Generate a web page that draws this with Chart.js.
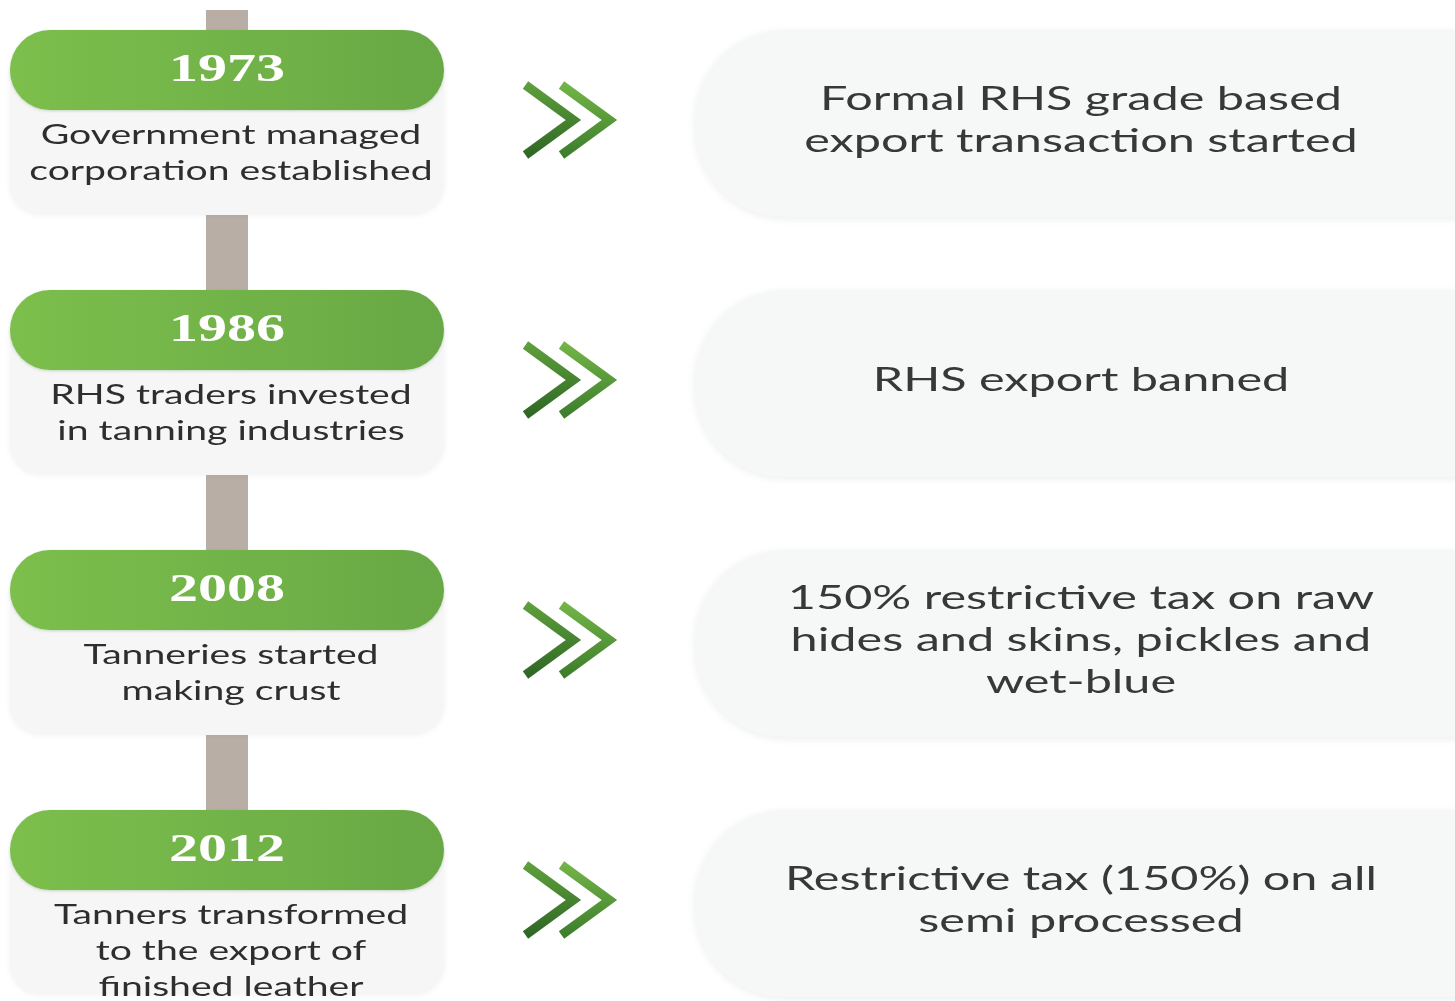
<!DOCTYPE html>
<html>
<head>
<meta charset="utf-8">
<script src="https://cdn.jsdelivr.net/npm/chart.js@4.4.1/dist/chart.umd.min.js"></script>
<style>
  html, body { margin: 0; padding: 0; background: #fff; overflow: hidden; }
  #wrap { width: 1455px; height: 1001px; }
</style>
</head>
<body>
<div id="wrap"><canvas id="timeline"></canvas></div>
<script>
// ============================== data

const years = ['1973', '1986', '2008', '2012'];

const milestones = [
    ['Government managed', 'corporation established'],
    ['RHS traders invested', 'in tanning industries'],
    ['Tanneries started', 'making crust'],
    ['Tanners transformed', 'to the export of', 'finished leather']
];

const outcomes = [
    ['Formal RHS grade based', 'export transaction started'],
    ['RHS export banned'],
    ['150% restrictive tax on raw', 'hides and skins, pickles and', 'wet-blue'],
    ['Restrictive tax (150%) on all', 'semi processed']
];

// column 0 = milestones, column 1 = outcomes; row = position in the timeline
const rows = years.map((y, i) => i);


// ============================== drawing helpers

const SX = 1.45; // the original artwork is stretched sideways

function stretchedText(ctx, text, x, y, font, color) {
    ctx.save();
    ctx.translate(x, y);
    ctx.scale(SX, 1);
    ctx.font = font;
    ctx.fillStyle = color;
    ctx.textAlign = 'center';
    ctx.textBaseline = 'middle';
    ctx.fillText(text, 0, 0);
    ctx.restore();
}

function chevron(ctx, x, y, c1, c2) {
    const g = ctx.createLinearGradient(0, y - 35, 0, y + 35);
    g.addColorStop(0, c1);
    g.addColorStop(1, c2);
    ctx.beginPath();
    ctx.moveTo(x - 48, y - 35);
    ctx.lineTo(x, y);
    ctx.lineTo(x - 48, y + 35);
    ctx.strokeStyle = g;
    ctx.lineWidth = 9;
    ctx.lineJoin = 'miter';
    ctx.lineCap = 'butt';
    ctx.stroke();
}

const timelinePlugin = {
    id: 'timeline',
    afterDatasetsDraw(chart) {
        const ctx = chart.ctx;
        const left = chart.getDatasetMeta(0).data;
        const right = chart.getDatasetMeta(1).data;

        // connector bar behind the milestone cards
        const cx = left[0].x;
        ctx.fillStyle = '#b9aea6';
        ctx.fillRect(cx - 21, left[0].y - 60, 42, left[left.length - 1].y - left[0].y + 60);

        // outcome cards
        right.forEach((p, i) => {
            const cy = p.y + 53;
            ctx.save();
            ctx.shadowColor = 'rgba(0,0,0,0.07)';
            ctx.shadowBlur = 8;
            ctx.shadowOffsetY = 2;
            ctx.beginPath();
            ctx.roundRect(695, cy - 93, 860, 187, 90);
            ctx.fillStyle = '#f6f7f7';
            ctx.fill();
            ctx.restore();
        });

        // milestone cards
        left.forEach((p, i) => {
            ctx.save();
            ctx.shadowColor = 'rgba(0,0,0,0.06)';
            ctx.shadowBlur = 6;
            ctx.beginPath();
            ctx.roundRect(p.x - 217, p.y, 434, 145, [0, 0, 30, 30]);
            ctx.fillStyle = '#f5f6f5';
            ctx.fill();
            ctx.restore();

            const g = ctx.createLinearGradient(p.x - 217, 0, p.x + 217, 0);
            g.addColorStop(0, '#7cbf4c');
            g.addColorStop(1, '#68a845');
            ctx.save();
            ctx.shadowColor = 'rgba(60,100,40,0.25)';
            ctx.shadowBlur = 3;
            ctx.shadowOffsetY = 1;
            ctx.beginPath();
            ctx.roundRect(p.x - 217, p.y - 40, 434, 80, 40);
            ctx.fillStyle = g;
            ctx.fill();
            ctx.restore();

            stretchedText(ctx, years[i], p.x, p.y + 1, 'bold 40px "Liberation Serif"', '#ffffff');
            milestones[i].forEach((line, k) => {
                stretchedText(ctx, line, p.x + 4, p.y + 65 + k * 36, '27px Lato', '#2e2e2e');
            });
        });

        // arrows and outcome text
        right.forEach((p, i) => {
            const cy = p.y + 53;
            const ax = (left[i].x + 217 + 695) / 2;
            chevron(ctx, ax + 4, cy - 3, '#5e9e3c', '#2f6825');
            chevron(ctx, ax + 40, cy - 3, '#72b447', '#3e7e2d');

            const lines = outcomes[i];
            const top = cy - 3 - (lines.length - 1) * 21;
            lines.forEach((line, k) => {
                stretchedText(ctx, line, p.x, top + k * 42, '33.5px Lato', '#383838');
            });
        });
    }
};


// ============================== chart

const ctx = document.getElementById('timeline').getContext('2d');
const timeline = new Chart(ctx, {
    type: 'scatter',
    data: {
        datasets: [
            {
                label: 'Milestones',
                data: rows.map(r => ({ x: 0, y: r })),
                pointRadius: 0
            },
            {
                label: 'Outcomes',
                data: rows.map(r => ({ x: 1, y: r })),
                pointRadius: 0
            }
        ]
    },
    options: {
        responsive: true,
        maintainAspectRatio: false,
        animation: false,
        layout: { padding: 0 },
        plugins: {
            legend: { display: false },
            tooltip: { enabled: false }
        },
        scales: {
            x: { type: 'linear', min: -0.2658, max: 1.438, display: false },
            y: { type: 'linear', min: -0.2692, max: 3.5808, reverse: true, display: false }
        }
    },
    plugins: [timelinePlugin]
});
</script>
</body>
</html>
